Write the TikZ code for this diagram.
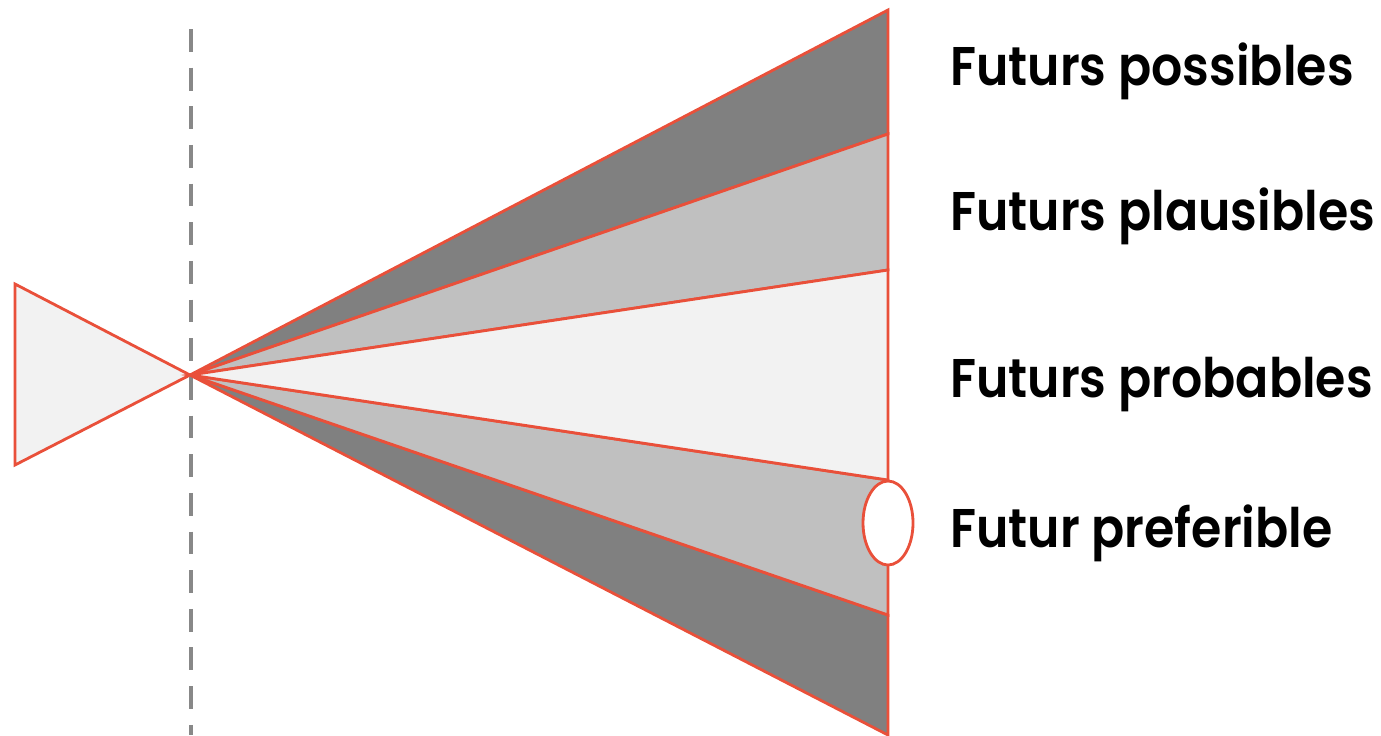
\documentclass[tikz,border=0pt]{standalone}
\usepackage{fontspec}
\setmainfont{Poppins}[BoldFont={Poppins SemiBold}, FakeStretch=0.9]
\usetikzlibrary{positioning}

\definecolor{conered}{RGB}{233,80,58}
\definecolor{bandgray}{RGB}{128,128,128}
\definecolor{bandsilver}{RGB}{192,192,192}
\definecolor{bandpale}{RGB}{242,242,242}
\definecolor{nowgray}{RGB}{136,136,136}

\tikzset{
  band/.style={draw=conered, line width=1.6pt, line join=miter},
  futlabel/.style={anchor=base west, inner sep=0pt, font=\fontsize{31}{36}\selectfont\bfseries}
}

\begin{document}
\begin{tikzpicture}[x=0.02cm, y=-0.02cm]
\useasboundingbox (0,0) rectangle (1381,735);

% present moment
\draw[nowgray, line width=2.2pt, dash pattern=on 13 off 9] (191,29) -- (191,735);

% the past
\coordinate (now) at (190,375);
\draw[band, fill=bandpale] (15,284) -- (15,465) -- (now) -- cycle;

% cone of futures, outer bands first
\foreach \ya/\yb/\col in {10/134/bandgray, 615/735/bandgray, 134/270/bandsilver, 480/615/bandsilver, 270/480/bandpale}
{
    \draw[band, fill=\col] (now) -- (888,\ya) -- (888,\yb) -- cycle;
}

% preferable future
\draw[band, fill=white] (888,523) ellipse [x radius=25, y radius=42];

% labels
\node[futlabel] (possible) at (950,85) {Futurs possibles};
\node[futlabel] (plausible) at (950,230) {Futurs plausibles};
\node[futlabel] (probable) at (950,397) {Futurs probables};
\node[futlabel] (preferable) at (950,547) {Futur preferible};

\end{tikzpicture}
\end{document}
